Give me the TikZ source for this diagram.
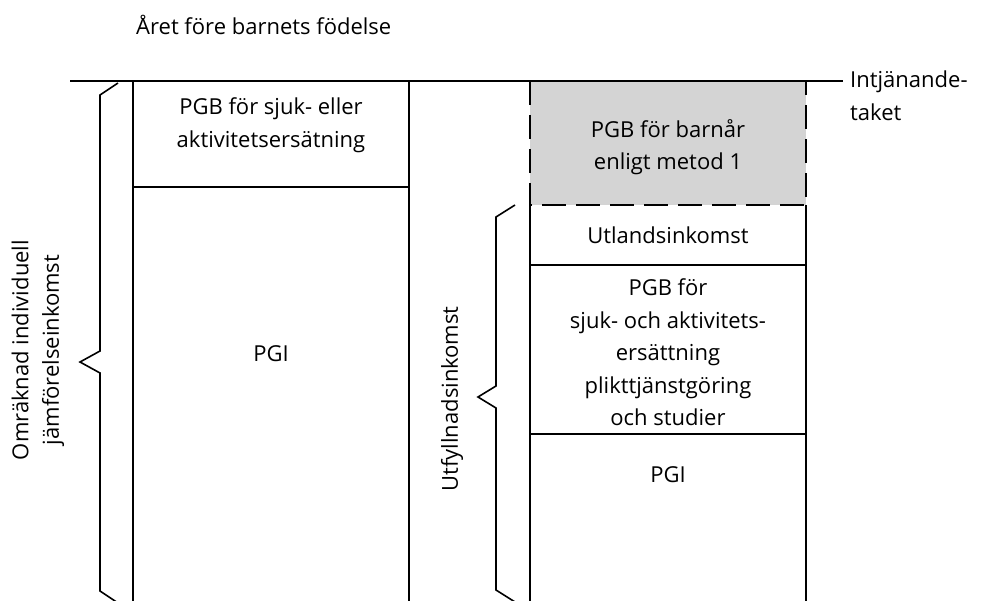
\documentclass[tikz,border=0pt]{standalone}
\usepackage{fontspec}
\setmainfont{Open Sans}
\usetikzlibrary{positioning}

\definecolor{barngray}{RGB}{212,212,212}

\tikzset{
    field/.style={draw, line width=1.8pt, minimum width=276pt, inner sep=0pt, outer sep=0pt},
    txt/.style={align=center, font=\fontsize{22}{32.5}\selectfont, inner sep=0pt},
    brace/.style={line width=1.6pt, line join=miter},
}

\begin{document}
\begin{tikzpicture}[x=1pt, y=-1pt]
    \clip (0,0) rectangle (992,601);
    \fill[white] (0,0) rectangle (992,601);

    \node[txt, anchor=base west] (title) at (136,35) {Året före barnets födelse};

    % vänster kolumn
    \begin{scope}
        \node[field, minimum height=106pt, anchor=north west] (sjuk1) at (133,81) {};
        \node[field, minimum height=440pt, anchor=north] (pgi1) at (sjuk1.south) {};
        \node[txt] (sjuk1txt) at ([yshift=9pt]sjuk1.center) {PGB för sjuk- eller\\aktivitetsersätning};
        \node[txt] (pgi1txt) at (271,354) {PGI};
    \end{scope}

    % höger kolumn
    \begin{scope}
        \node[fill=barngray, minimum width=276pt, minimum height=124pt, inner sep=0pt, outer sep=0pt, anchor=north west] (barn) at (530,81) {};
        \draw[line width=1.8pt, dash pattern=on 24pt off 10pt] (barn.north west) -- (barn.south west) -- (barn.south east) -- (barn.north east);
        \node[minimum width=276pt, minimum height=60pt, inner sep=0pt, outer sep=0pt, anchor=north] (utland) at (barn.south) {};
        \draw[line width=1.8pt] (utland.north west) -- (utland.south west) -- (utland.south east) -- (utland.north east);
        \node[field, minimum height=169pt, anchor=north] (sjuk2) at (utland.south) {};
        \node[field, minimum height=300pt, anchor=north] (pgi2) at (sjuk2.south) {};

        \node[txt] (barntxt) at ([yshift=-4pt]barn.center) {PGB för barnår\\enligt metod 1};
        \node[txt] (utlandtxt) at (utland.center) {Utlandsinkomst};
        \node[txt] (sjuk2txt) at ([yshift=-3pt]sjuk2.center) {PGB för\\sjuk- och aktivitets-\\ersättning\\plikttjänstgöring\\och studier};
        \node[txt] (pgi2txt) at (668,475) {PGI};
    \end{scope}

    % intjänandetaket
    \coordinate (tak0) at (70,81);
    \coordinate (tak1) at (843,81);
    \draw[line width=1.5pt] (tak0) -- (tak1);
    \node[txt, align=left, anchor=north west] (taktxt) at (850,71) {Intjänande-\\taket};

    % klamrar
    \draw[brace] (118,83) -- (100,95) -- (100,351) -- (80,362) -- (100,373) -- (100,591) -- (118,603);
    \draw[brace] (515,205) -- (496,217) -- (496,386) -- (478,397) -- (496,408) -- (496,590) -- (515,602);

    \node[txt, font=\fontsize{22}{30.5}\selectfont, rotate=90] (omrtxt) at (38,350) {Omräknad individuell\\jämförelseinkomst};
    \node[txt, rotate=90] (utftxt) at (452,399) {Utfyllnadsinkomst};
\end{tikzpicture}
\end{document}
